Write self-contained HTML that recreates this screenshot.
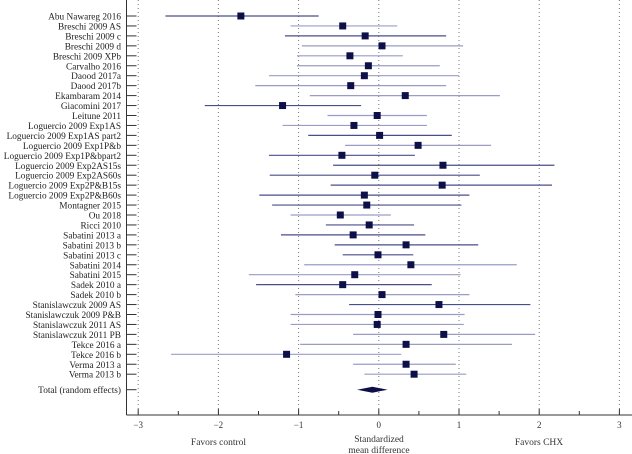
<!DOCTYPE html>
<html><head><meta charset="utf-8"><style>
html,body{margin:0;padding:0;background:#fff;}
svg{display:block;font-family:"Liberation Serif",serif;}
</style></head><body>
<svg id="chart" width="632" height="454" viewBox="0 0 632 454" xmlns="http://www.w3.org/2000/svg"></svg>
<script>
const studies = ["Abu Nawareg 2016","Breschi 2009 AS","Breschi 2009 c","Breschi 2009 d","Breschi 2009 XPb","Carvalho 2016","Daood 2017a","Daood 2017b","Ekambaram 2014","Giacomini 2017","Leitune 2011","Loguercio 2009 Exp1AS","Loguercio 2009 Exp1AS part2","Loguercio 2009 Exp1P&b","Loguercio 2009 Exp1P&bpart2","Loguercio 2009 Exp2AS15s","Loguercio 2009 Exp2AS60s","Loguercio 2009 Exp2P&B15s","Loguercio 2009 Exp2P&B60s","Montagner 2015","Ou 2018","Ricci 2010","Sabatini 2013 a","Sabatini 2013 b","Sabatini 2013 c","Sabatini 2014","Sabatini 2015","Sadek 2010 a","Sadek 2010 b","Stanislawczuk 2009 AS","Stanislawczuk 2009 P&B","Stanislawczuk 2011 AS","Stanislawczuk 2011 PB","Tekce 2016 a","Tekce 2016 b","Verma 2013 a","Verma 2013 b"];
const smd = [-1.72,-0.45,-0.17,0.04,-0.36,-0.13,-0.18,-0.35,0.33,-1.2,-0.02,-0.31,0.01,0.49,-0.46,0.8,-0.05,0.79,-0.18,-0.15,-0.48,-0.12,-0.32,0.34,-0.01,0.4,-0.3,-0.45,0.04,0.75,-0.01,-0.02,0.81,0.34,-1.15,0.34,0.44];
const ciLow = [-2.66,-1.1,-1.17,-0.96,-1.02,-1.02,-1.37,-1.54,-0.86,-2.17,-0.64,-1.2,-0.88,-0.42,-1.37,-0.57,-1.36,-0.6,-1.49,-1.33,-1.1,-0.66,-1.22,-0.55,-0.45,-0.93,-1.62,-1.53,-1.04,-0.37,-1.1,-1.1,-0.32,-0.98,-2.59,-0.32,-0.18];
const ciHigh = [-0.75,0.23,0.84,1.05,0.3,0.76,1.0,0.84,1.51,-0.22,0.6,0.6,0.91,1.4,0.45,2.19,1.26,2.16,1.13,1.03,0.15,0.44,0.58,1.24,0.43,1.72,1.02,0.66,1.13,1.89,1.07,1.06,1.95,1.66,0.28,0.96,1.09];
const pooled = [-0.08, -0.27, 0.11];
const xTicks = [-3,-2,-1,0,1,2,3];
const xTickLabels = ["\u22123","\u22122","\u22121","0","1","2","3"];

const svg = document.getElementById('chart');
const NS = "http://www.w3.org/2000/svg";
const x0 = 378.8, xs = 80.2;
function xPos(v){ return x0 + v*xs; }
function yRow(i){ return 16 + i*9.95; }
const axisY = 415, axisX = 126.5;
function mk(tag, attrs, parent){ const e=document.createElementNS(NS,tag); for(const k in attrs) e.setAttribute(k,attrs[k]); (parent||svg).appendChild(e); return e; }

xTicks.forEach(v=>{
  const g = mk('line',{x1:xPos(v),x2:xPos(v),y1:0,y2:axisY,stroke:'#777','stroke-width':1,'stroke-dasharray':'1,3'});
  
  
});
const la = mk('line',{x1:axisX,x2:axisX,y1:0,y2:axisY,stroke:'#333','stroke-width':1});


const ba = mk('line',{x1:axisX,x2:632,y1:axisY,y2:axisY,stroke:'#333','stroke-width':1});


for(let v=-3; v<=3; v+=0.5){
  const major = Number.isInteger(v);
  const t = mk('line',{x1:xPos(v),x2:xPos(v),y1:axisY,y2:axisY-(major?6:4),stroke:'#333','stroke-width':1});
  
  
}
xTicks.forEach((v,i)=>{
  const t = mk('text',{x:xPos(v),y:428,'text-anchor':'middle','font-size':9,fill:'#333'});
  t.textContent = xTickLabels[i];
  
  
});

const darkLines = [1,0,1,0,0,0,0,0,0,1,0,0,1,0,1,1,1,1,1,1,0,1,1,1,1,0,0,1,0,1,0,0,0,0,0,0,0];
studies.forEach((s,i)=>{
  const y = yRow(i);
  const tk = mk('line',{x1:axisX,x2:axisX+10,y1:y,y2:y,stroke:'#333','stroke-width':1});
  
  
  const lb = mk('text',{x:121,y:y+3.5,'text-anchor':'end','font-size':9.3,fill:'#222'});
  lb.textContent = s;
  
  
  const ci = mk('line',{x1:xPos(ciLow[i]),x2:xPos(ciHigh[i]),y1:y,y2:y,stroke:darkLines[i]?'#4a4e88':'#9a9cc4','stroke-width':1.2});
  
  
  const sz = 7;
  const sq = mk('rect',{x:xPos(smd[i])-sz/2,y:y-sz/2,width:sz,height:sz,fill:'#0d1048'});
  
  
});
const ty = 389.7;
const ttk = mk('line',{x1:axisX,x2:axisX+10,y1:ty,y2:ty,stroke:'#333','stroke-width':1});


const tl = mk('text',{x:121,y:ty+3.5,'text-anchor':'end','font-size':9.3,fill:'#222'});
tl.textContent = 'Total (random effects)';


const dm = mk('polygon',{points:`${xPos(pooled[1])},${ty} ${xPos(pooled[0])},${ty-3} ${xPos(pooled[2])},${ty} ${xPos(pooled[0])},${ty+3}`,fill:'#0d1048'});



function txt(x,y,s,name){ const t=mk('text',{x:x,y:y,'text-anchor':'middle','font-size':9.5,fill:'#333'}); t.textContent=s;   }
txt(218.5,445,'Favors control','favors-control-label');
txt(379,442,'Standardized','x-axis-title-line1');
txt(379,453,'mean difference','x-axis-title-line2');
txt(539,445,'Favors CHX','favors-chx-label');
</script>
</body></html>
